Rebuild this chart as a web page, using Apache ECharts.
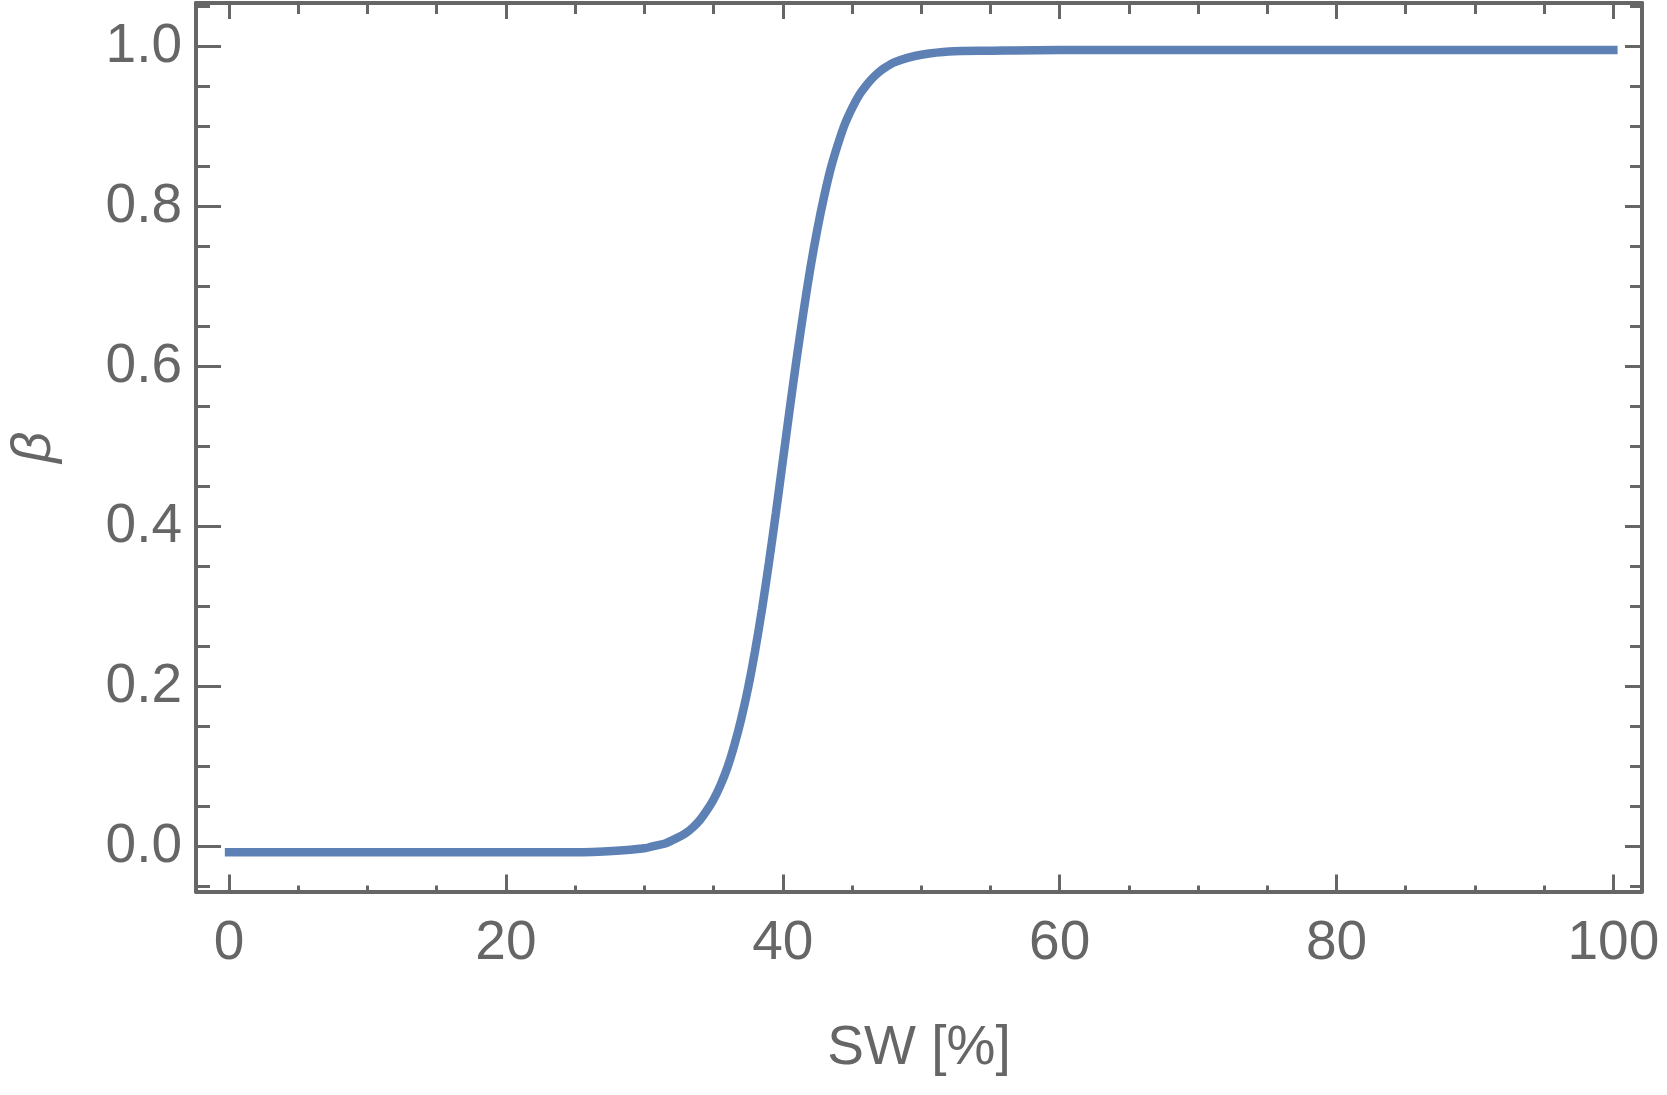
<!DOCTYPE html>
<html>
<head>
<meta charset="utf-8">
<script src="https://cdn.jsdelivr.net/npm/echarts@6/dist/echarts.min.js"></script>
<style>
  html, body { margin: 0; padding: 0; background: #fff; }
  #chart { width: 1667px; height: 1095px; }
</style>
</head>
<body>
<div id="chart"></div>
<script>
// SW [%] sample points and beta values
var sw = [0, 5, 10, 15, 20, 25, 28, 30, 30.5, 31, 31.5, 32, 32.5, 33, 33.5, 34, 34.5, 35, 35.5,
  36, 36.5, 37, 37.5, 38, 38.5, 39, 39.5, 40, 40.5, 41, 41.5, 42, 42.5, 43, 43.5, 44, 44.5,
  45, 45.5, 46, 46.5, 47, 47.5, 48, 49, 50, 52, 55, 60, 70, 80, 90, 100]
var beta = [-0.007, -0.007, -0.007, -0.007, -0.007, -0.007, -0.005, -0.002, 0.000, 0.002, 0.004,
  0.008, 0.012, 0.017, 0.024, 0.033, 0.045, 0.059, 0.077, 0.099, 0.127, 0.160, 0.199, 0.245,
  0.297, 0.355, 0.417, 0.482, 0.547, 0.610, 0.669, 0.724, 0.772, 0.814, 0.850, 0.879, 0.904,
  0.923, 0.939, 0.951, 0.961, 0.969, 0.975, 0.980, 0.986, 0.990, 0.994, 0.995, 0.996, 0.996,
  0.996, 0.996, 0.996]
var xTicks = [0, 20, 40, 60, 80, 100]
var yTicks = [0, 0.2, 0.4, 0.6, 0.8, 1.0]

var gray = '#666666'
var font = '"Liberation Sans", Arial, Helvetica, sans-serif'

function frameAxis (pos, ticks, majorLen, minorLen, withLabels) {
  var isX = pos === 'bottom' || pos === 'top'
  return {
    type: 'value',
    position: pos,
    min: isX ? -2.39 : -0.056,
    max: isX ? 102.07 : 1.0546,
    axisLine: { show: true, onZero: false, lineStyle: { color: gray, width: 4 } },
    axisTick: { show: true, inside: true, length: majorLen, customValues: ticks, lineStyle: { color: gray, width: 3 } },
    minorTick: { show: true, splitNumber: 4, length: minorLen, lineStyle: { color: gray, width: 3 } },
    splitLine: { show: false },
    axisLabel: {
      show: withLabels,
      customValues: ticks,
      color: gray,
      fontFamily: font,
      fontSize: 55,
      margin: isX ? 25 : 14,
      formatter: function (v) { return isX ? String(Math.round(v)) : v.toFixed(1) }
    }
  }
}

var chart = echarts.init(document.getElementById('chart'))

var xBottom = frameAxis('bottom', xTicks, 17, 6, true)
xBottom.name = 'SW [%]'
xBottom.nameLocation = 'middle'
xBottom.nameGap = 130
xBottom.nameTextStyle = { color: gray, fontFamily: font, fontSize: 55 }

var yLeft = frameAxis('left', yTicks, 25, 14, true)
yLeft.name = 'β'
yLeft.nameLocation = 'middle'
yLeft.nameGap = 134
yLeft.nameRotate = 90
yLeft.nameTextStyle = { color: gray, fontFamily: font, fontSize: 55, fontStyle: 'italic' }

chart.setOption({
  animation: false,
  grid: { left: 196, right: 25, top: 3, bottom: 203.5, containLabel: false, outerBoundsMode: 'none' },
  xAxis: [xBottom, frameAxis('top', xTicks, 16, 11, false)],
  yAxis: [yLeft, frameAxis('right', yTicks, 17, 12, false)],
  series: [
    {
      type: 'line',
      xAxisIndex: 0,
      yAxisIndex: 0,
      data: sw.map(function (x, i) { return [x, beta[i]] }),
      showSymbol: false,
      smooth: 0.3,
      lineStyle: { color: '#5E81B5', width: 8.5, cap: 'square' }
    }
  ]
})
</script>
</body>
</html>
